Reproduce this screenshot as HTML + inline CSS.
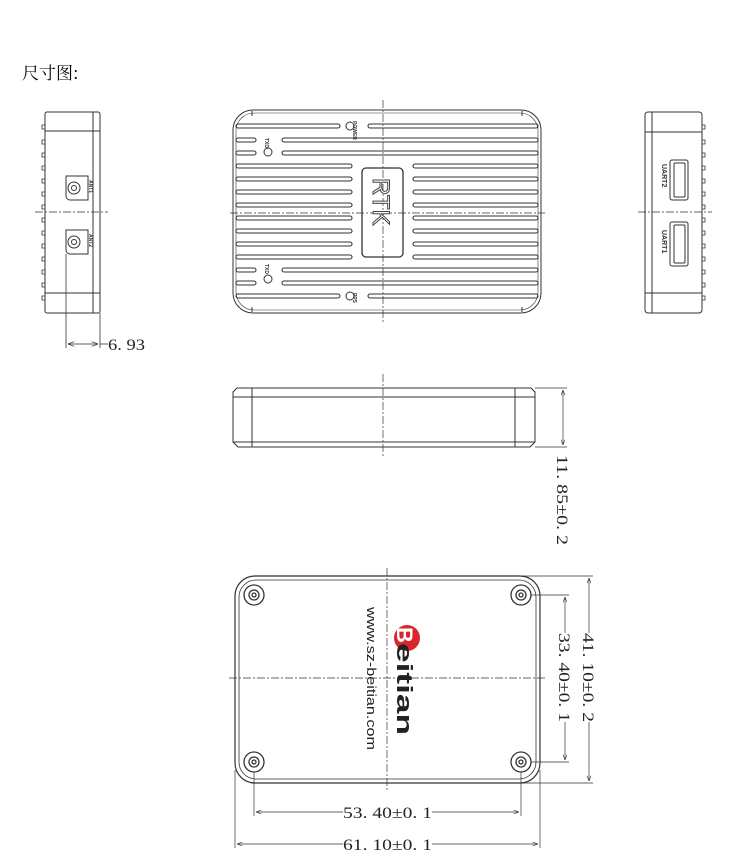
<!DOCTYPE html>
<html><head><meta charset="utf-8"><style>
html,body{margin:0;padding:0;background:#fff;}
svg{display:block;}
</style></head><body>
<svg width="750" height="863" viewBox="0 0 750 863" xmlns="http://www.w3.org/2000/svg" font-family="Liberation Serif, serif">
<defs>
<marker id="ar" markerWidth="8" markerHeight="6" refX="8" refY="3" orient="auto"><path d="M0,0 L8,3 L0,6" fill="none" stroke="#222" stroke-width="0.8"/></marker>
</defs>
<text x="22" y="79" font-size="17" style="font-family:'Noto Serif CJK SC',serif">尺寸图:</text>

<g fill="none" stroke="#333" stroke-width="1">
<!-- TOP VIEW -->
<rect x="233" y="110" width="308" height="203" rx="20"/>
<rect x="236" y="113" width="302" height="197" rx="18" stroke-width="0.6"/>
<line x1="252" y1="111" x2="252" y2="116"/><line x1="522" y1="111" x2="522" y2="116"/>
<line x1="252" y1="307" x2="252" y2="312"/><line x1="522" y1="307" x2="522" y2="312"/>
<g stroke-width="1.1">
<rect x="236" y="124" width="104" height="4" rx="2"/><rect x="368" y="124" width="170" height="4" rx="2"/>
<rect x="236" y="138" width="20" height="4" rx="2"/><rect x="282" y="138" width="256" height="4" rx="2"/>
<rect x="236" y="151" width="20" height="4" rx="2"/><rect x="282" y="151" width="256" height="4" rx="2"/>
<rect x="236" y="164" width="116" height="4" rx="2"/><rect x="413" y="164" width="125" height="4" rx="2"/>
<rect x="236" y="177" width="116" height="4" rx="2"/><rect x="413" y="177" width="125" height="4" rx="2"/>
<rect x="236" y="190" width="116" height="4" rx="2"/><rect x="413" y="190" width="125" height="4" rx="2"/>
<rect x="236" y="203" width="116" height="4" rx="2"/><rect x="413" y="203" width="125" height="4" rx="2"/>
<rect x="236" y="216" width="116" height="4" rx="2"/><rect x="413" y="216" width="125" height="4" rx="2"/>
<rect x="236" y="229" width="116" height="4" rx="2"/><rect x="413" y="229" width="125" height="4" rx="2"/>
<rect x="236" y="242" width="116" height="4" rx="2"/><rect x="413" y="242" width="125" height="4" rx="2"/>
<rect x="236" y="255" width="116" height="4" rx="2"/><rect x="413" y="255" width="125" height="4" rx="2"/>
<rect x="236" y="268" width="20" height="4" rx="2"/><rect x="282" y="268" width="256" height="4" rx="2"/>
<rect x="236" y="281" width="20" height="4" rx="2"/><rect x="282" y="281" width="256" height="4" rx="2"/>
<rect x="236" y="294" width="104" height="4" rx="2"/><rect x="368" y="294" width="170" height="4" rx="2"/>
</g>
<circle cx="350" cy="126" r="4"/><circle cx="268" cy="152" r="4"/><circle cx="268" cy="279" r="4"/><circle cx="350" cy="296" r="4"/>
<rect x="362" y="168" width="41" height="89" rx="4" stroke-width="1.3"/>
<line x1="383" y1="100" x2="383" y2="322" stroke-dasharray="8,2,2,2" stroke-width="0.7"/>
<line x1="230" y1="213" x2="545" y2="213" stroke-dasharray="8,2,2,2" stroke-width="0.7"/>

<!-- LEFT SIDE VIEW -->
<rect x="45" y="112" width="55" height="201" rx="2"/>
<line x1="93" y1="112" x2="93" y2="313"/>
<line x1="45" y1="131" x2="100" y2="131"/><line x1="45" y1="293" x2="100" y2="293"/>
<g stroke-width="0.8">
<path d="M45,125 h-3 v4 h3 M45,140 h-3 v4 h3 M45,153 h-3 v4 h3 M45,166 h-3 v4 h3 M45,179 h-3 v4 h3 M45,192 h-3 v4 h3 M45,205 h-3 v4 h3 M45,218 h-3 v4 h3 M45,231 h-3 v4 h3 M45,244 h-3 v4 h3 M45,257 h-3 v4 h3 M45,270 h-3 v4 h3 M45,283 h-3 v4 h3 M45,296 h-3 v4 h3"/>
</g>
<path d="M66,176 h22 v24 h-18 a4,4 0 0 1 -4,-4 z"/><circle cx="74" cy="188" r="6"/><circle cx="74" cy="188" r="2.5"/>
<path d="M66,230 h22 v24 h-18 a4,4 0 0 1 -4,-4 z"/><circle cx="74" cy="242" r="6"/><circle cx="74" cy="242" r="2.5"/>
<line x1="35" y1="212" x2="108" y2="212" stroke-dasharray="8,2,2,2" stroke-width="0.7"/>
<line x1="66" y1="254" x2="66" y2="348" stroke-width="0.8"/><line x1="100" y1="313" x2="100" y2="348" stroke-width="0.8"/>
<line x1="84" y1="344" x2="68" y2="344" marker-end="url(#ar)" stroke-width="0.8"/>
<line x1="84" y1="344" x2="98" y2="344" marker-end="url(#ar)" stroke-width="0.8"/>
<line x1="100" y1="344" x2="108" y2="344" stroke-width="0.8"/>

<!-- RIGHT SIDE VIEW -->
<rect x="645" y="112" width="57" height="201" rx="3"/>
<line x1="652" y1="112" x2="652" y2="313"/>
<line x1="645" y1="132" x2="702" y2="132"/><line x1="645" y1="293" x2="702" y2="293"/>
<g stroke-width="0.8">
<path d="M702,125 h3 v4 h-3 M702,140 h3 v4 h-3 M702,153 h3 v4 h-3 M702,166 h3 v4 h-3 M702,179 h3 v4 h-3 M702,192 h3 v4 h-3 M702,205 h3 v4 h-3 M702,218 h3 v4 h-3 M702,231 h3 v4 h-3 M702,244 h3 v4 h-3 M702,257 h3 v4 h-3 M702,270 h3 v4 h-3 M702,283 h3 v4 h-3 M702,296 h3 v4 h-3"/>
</g>
<rect x="670" y="160" width="18" height="40" rx="2"/><rect x="674" y="163" width="11" height="34" rx="1"/>
<rect x="670" y="222" width="18" height="44" rx="2"/><rect x="674" y="225" width="11" height="38" rx="1"/>
<line x1="638" y1="212" x2="712" y2="212" stroke-dasharray="8,2,2,2" stroke-width="0.7"/>

<!-- FRONT VIEW -->
<path d="M237,388 H531 L535,392 V442 L530,447 H238 L233,442 V392 Z"/>
<line x1="233" y1="397" x2="535" y2="397"/>
<line x1="233" y1="442" x2="535" y2="442"/>
<line x1="252" y1="388" x2="252" y2="447"/><line x1="515" y1="388" x2="515" y2="447"/>
<line x1="383" y1="374" x2="383" y2="458" stroke-dasharray="8,2,2,2" stroke-width="0.7"/>
<line x1="535" y1="388" x2="567" y2="388" stroke-width="0.7"/><line x1="535" y1="447" x2="567" y2="447" stroke-width="0.7"/>
<line x1="563" y1="418" x2="563" y2="390" marker-end="url(#ar)" stroke-width="0.7"/>
<line x1="563" y1="418" x2="563" y2="445" marker-end="url(#ar)" stroke-width="0.7"/>

<!-- BOTTOM VIEW -->
<rect x="235" y="576" width="305" height="207" rx="20" stroke-width="1.2"/>
<rect x="239" y="580" width="297" height="199" rx="17" stroke-width="0.8"/>
<g stroke-width="1.3">
<circle cx="254" cy="595" r="10"/><circle cx="254" cy="595" r="5"/><circle cx="254" cy="595" r="2"/>
<circle cx="521" cy="595" r="10"/><circle cx="521" cy="595" r="5"/><circle cx="521" cy="595" r="2"/>
<circle cx="254" cy="762" r="10"/><circle cx="254" cy="762" r="5"/><circle cx="254" cy="762" r="2"/>
<circle cx="521" cy="762" r="10"/><circle cx="521" cy="762" r="5"/><circle cx="521" cy="762" r="2"/>
</g>
<line x1="387" y1="568" x2="387" y2="792" stroke-dasharray="8,2,2,2" stroke-width="0.7"/>
<line x1="229" y1="678" x2="546" y2="678" stroke-dasharray="8,2,2,2" stroke-width="0.7"/>
<g stroke-width="0.7">
<line x1="254" y1="772" x2="254" y2="816"/><line x1="521" y1="772" x2="521" y2="816"/>
<line x1="343" y1="812" x2="256" y2="812" marker-end="url(#ar)"/><line x1="432" y1="812" x2="519" y2="812" marker-end="url(#ar)"/>
<line x1="235" y1="770" x2="235" y2="848"/><line x1="540" y1="770" x2="540" y2="848"/>
<line x1="343" y1="844" x2="237" y2="844" marker-end="url(#ar)"/><line x1="432" y1="844" x2="538" y2="844" marker-end="url(#ar)"/>
<line x1="531" y1="595" x2="569" y2="595"/><line x1="531" y1="762" x2="569" y2="762"/>
<line x1="565" y1="633" x2="565" y2="597" marker-end="url(#ar)"/><line x1="565" y1="722" x2="565" y2="760" marker-end="url(#ar)"/>
<line x1="520" y1="576" x2="593" y2="576"/><line x1="520" y1="783" x2="593" y2="783"/>
<line x1="589" y1="633" x2="589" y2="578" marker-end="url(#ar)"/><line x1="589" y1="722" x2="589" y2="781" marker-end="url(#ar)"/>
</g>
</g>

<!-- text -->
<text transform="translate(373,178) rotate(90)" style="font-family:'Liberation Sans',sans-serif" font-size="24" fill="#fff" stroke="#444" stroke-width="1">RTK</text>
<g style="font-family:'Liberation Sans',sans-serif" font-size="5" font-weight="bold" fill="#333">
<text transform="translate(353,121) rotate(90)">POWER</text>
<text transform="translate(265,138) rotate(90)">TXD</text>
<text transform="translate(265,264) rotate(90)">TXD</text>
<text transform="translate(353,293) rotate(90)">PPS</text>
<text transform="translate(89,180) rotate(90)">ANT1</text>
<text transform="translate(89,234) rotate(90)">ANT2</text>
<text transform="translate(662,164) rotate(90)" font-size="7">UART2</text>
<text transform="translate(662,230) rotate(90)" font-size="7">UART1</text>
</g>
<text x="108" y="350" font-size="16" fill="#222" textLength="37" lengthAdjust="spacingAndGlyphs">6. 93</text>
<text transform="translate(557,455) rotate(90)" font-size="16" fill="#222" textLength="90" lengthAdjust="spacingAndGlyphs">11. 85±0. 2</text>
<text x="343" y="818" font-size="16" fill="#222" textLength="89" lengthAdjust="spacingAndGlyphs">53. 40±0. 1</text>
<text x="343" y="850" font-size="16" fill="#222" textLength="89" lengthAdjust="spacingAndGlyphs">61. 10±0. 1</text>
<text transform="translate(559,633) rotate(90)" font-size="16" fill="#222" textLength="89" lengthAdjust="spacingAndGlyphs">33. 40±0. 1</text>
<text transform="translate(583,633) rotate(90)" font-size="16" fill="#222" textLength="89" lengthAdjust="spacingAndGlyphs">41. 10±0. 2</text>
<text transform="translate(367,607) rotate(90)" style="font-family:'Liberation Sans',sans-serif" font-size="13" fill="#222" textLength="143" lengthAdjust="spacingAndGlyphs">www.sz-beitian.com</text>
<circle cx="407" cy="638" r="13" fill="#d8262c"/>
<text transform="translate(397,627) rotate(90)" style="font-family:'Liberation Sans',sans-serif" font-size="22" font-weight="bold" fill="#fff">B</text>
<text transform="translate(397,643) rotate(90)" style="font-family:'Liberation Sans',sans-serif" font-size="22" font-weight="bold" fill="#222" textLength="92" lengthAdjust="spacingAndGlyphs">eitian</text>
</svg>
</body></html>
